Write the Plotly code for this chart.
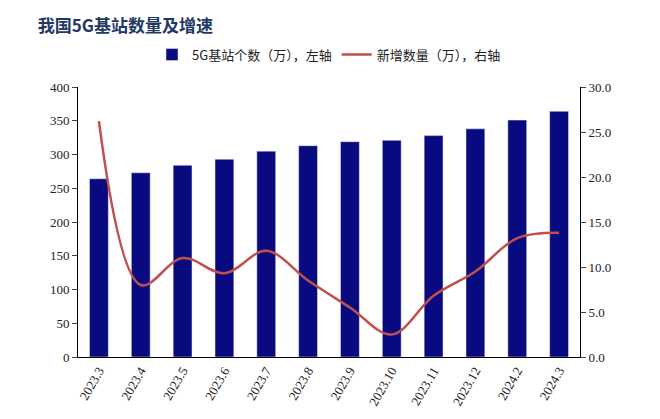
import plotly.graph_objects as go

months = ["2023.3","2023.4","2023.5","2023.6","2023.7","2023.8","2023.9","2023.10","2023.11","2023.12","2024.2","2024.3"]
stations = [264, 273, 284, 293, 305, 313, 319, 321, 328, 338, 351, 364]
new_added = [26.2, 8.0, 11.0, 9.3, 11.8, 8.5, 5.5, 2.5, 6.8, 9.5, 13.2, 13.8]

fig = go.Figure()
fig.add_trace(go.Bar(x=months, y=stations, name="5G基站个数（万），左轴",
                     marker_color="#0a0a80", width=0.45))
fig.add_trace(go.Scatter(x=months, y=new_added, name="新增数量（万），右轴", yaxis="y2",
                         mode="lines", line=dict(color="#c0504d", width=2.5, shape="spline", smoothing=1.0)))
axfont = dict(family="Liberation Serif, DejaVu Serif", size=13, color="#222")
fig.update_layout(
    width=660, height=419, plot_bgcolor="white", paper_bgcolor="white",
    margin=dict(l=70, r=88, t=79, b=70),
    font=dict(family="Noto Sans CJK SC", size=13, color="#222"),
    title=dict(text="<b>我国5G基站数量及增速</b>", x=0.045, y=0.97, xanchor="left", yanchor="top",
               font=dict(size=17, color="#1f3864")),
    legend=dict(orientation="h", x=0.5, xanchor="center", y=1.12, yanchor="middle",
                font=dict(size=13), bgcolor="rgba(0,0,0,0)"),
    xaxis=dict(showline=True, linecolor="black", ticks="", tickangle=-60, tickfont=axfont),
    yaxis=dict(range=[0, 400], dtick=50, showline=True, linecolor="black", ticks="outside",
               showgrid=False, tickfont=axfont),
    yaxis2=dict(range=[0, 30], dtick=5, overlaying="y", side="right", showline=True, linecolor="black",
                ticks="outside", showgrid=False, tickformat=".1f", tickfont=axfont),
)
fig.write_html("out.html")
